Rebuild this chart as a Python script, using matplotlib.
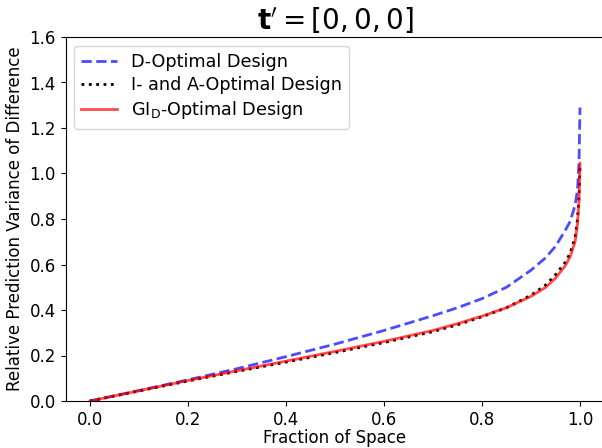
import matplotlib
matplotlib.use("Agg")
import matplotlib.pyplot as plt

# Fraction of design space and relative prediction variance of difference
fraction = [0.0, 0.1, 0.2, 0.3, 0.4, 0.5, 0.6, 0.7, 0.75, 0.8, 0.85, 0.9,
            0.93, 0.95, 0.97, 0.98, 0.99, 0.995, 0.998, 1.0]
d_optimal = [0.0, 0.046, 0.093, 0.142, 0.195, 0.25, 0.31, 0.375, 0.41, 0.45,
             0.50, 0.575, 0.63, 0.68, 0.75, 0.79, 0.86, 0.93, 1.05, 1.29]
ia_optimal = [0.0, 0.044, 0.088, 0.13, 0.171, 0.213, 0.257, 0.305, 0.335, 0.37,
              0.41, 0.465, 0.51, 0.555, 0.61, 0.65, 0.72, 0.80, 0.90, 1.03]
gid_optimal = [0.0, 0.045, 0.09, 0.133, 0.175, 0.218, 0.262, 0.31, 0.34, 0.373,
               0.41, 0.46, 0.50, 0.54, 0.595, 0.635, 0.70, 0.78, 0.88, 1.045]

fig = plt.figure(figsize=(6.02, 4.48), dpi=100)
ax = fig.add_axes([65.5 / 602, 1 - 401 / 448, 539 / 602, 364 / 448])

ax.plot(fraction, d_optimal, "b--", lw=2, alpha=0.7, label="D-Optimal Design")
ax.plot(fraction, ia_optimal, "k:", lw=2, label="I- and A-Optimal Design")
ax.plot(fraction, gid_optimal, "r-", lw=2, alpha=0.7,
        label=r"GI$_\mathrm{D}$-Optimal Design")

ax.set_xlim(-0.05, 1.05)
ax.set_ylim(0, 1.6)
ax.set_xticks([0.0, 0.2, 0.4, 0.6, 0.8, 1.0])
ax.tick_params(labelsize=12)
ax.set_xlabel("Fraction of Space", fontsize=12, labelpad=0.5)
ax.set_ylabel("Relative Prediction Variance of Difference", fontsize=12)
ax.set_title(r"$\mathbf{t}^{\prime} = [0, 0, 0]$", fontsize=20, pad=5)
ax.legend(loc="upper left", fontsize=12.7, labelspacing=0.3)

fig.savefig("out.png", dpi=100)
